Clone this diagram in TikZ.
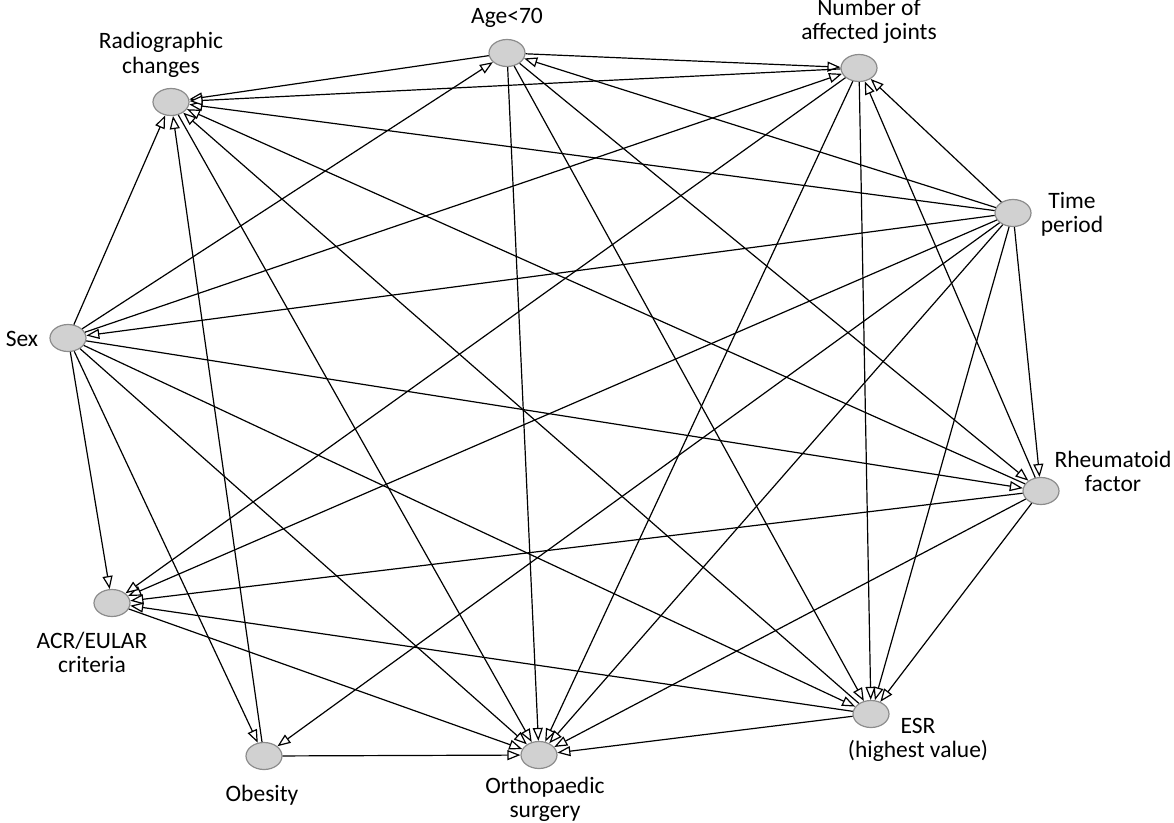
\documentclass[tikz,border=0pt]{standalone}
\usepackage{fontspec}
\setmainfont{Carlito}
\usetikzlibrary{shapes.geometric,arrows.meta}
\tikzset{
  var/.style={ellipse, draw=black!45, fill=black!18, line width=1.2pt,
    minimum width=36pt, minimum height=27pt, inner sep=0pt},
  lab/.style={align=center, inner sep=0pt,
    font=\fontsize{23.5}{24.5}\selectfont},
  edge/.style={draw=black, line width=1.2pt,
    -{Triangle[length=13pt, width=10pt, fill=white]}},
}
\begin{document}
\begin{tikzpicture}[x=1pt, y=-1pt]
\useasboundingbox (0,0) rectangle (1174,822);

% variables
\node[var] (age)  at (507,53)  {};
\node[var] (num)  at (859,68)  {};
\node[var] (rad)  at (171,102) {};
\node[var] (time) at (1013,213) {};
\node[var] (sex)  at (68,338)  {};
\node[var] (rf)   at (1041,491) {};
\node[var] (acr)  at (112,603) {};
\node[var] (esr)  at (871,714) {};
\node[var] (obe)  at (264,756) {};
\node[var] (orth) at (539,755) {};

% labels
\node[lab] (lage)  at (507,18)    {Age<70};
\node[lab] (lnum)  at (869,21.5)  {Number of\\affected joints};
\node[lab] (lrad)  at (161,55)    {Radiographic\\changes};
\node[lab] (ltime) at (1072,214.5) {Time\\period};
\node[lab] (lsex)  at (22,339)    {Sex};
\node[lab] (lrf)   at (1113,471.5) {Rheumatoid\\factor};
\node[lab] (lacr)  at (92,652.5)  {ACR/EULAR\\criteria};
\node[lab] (lesr)  at (918,740)   {ESR\\(highest value)};
\node[lab] (lobe)  at (262,795)   {Obesity};
\node[lab] (lorth) at (545,799.5) {Orthopaedic\\surgery};

% directed edges
\foreach \a/\b in {
  time/num, time/age, time/rad, time/sex, time/acr, time/obe, time/orth, time/esr, time/rf,
  sex/rad, sex/age, sex/num, sex/rf, sex/esr, sex/orth, sex/obe, sex/acr,
  age/rad, age/num, age/rf, age/orth, age/esr,
  num/rad, num/acr, num/orth, num/esr,
  rf/num, rf/rad, rf/acr, rf/orth, rf/esr,
  esr/rad, esr/acr, esr/orth,
  acr/orth, obe/rad, obe/orth, rad/orth}
  \path[edge] (\a) -- (\b);
\end{tikzpicture}
\end{document}
